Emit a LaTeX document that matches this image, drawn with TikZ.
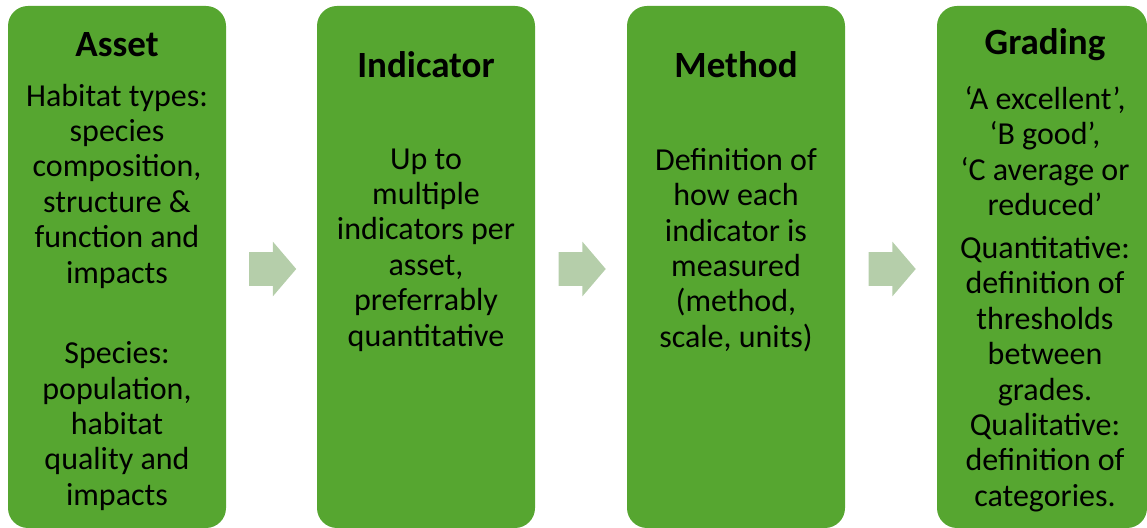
\documentclass[tikz,border=0pt]{standalone}
\usepackage{fontspec}
\setmainfont{Carlito}
\usetikzlibrary{shapes.arrows,calc}
\definecolor{verde}{RGB}{86,166,48}
\definecolor{verdeclaro}{RGB}{181,206,170}
\tikzset{
  caja/.style={fill=verde, rounded corners=10pt, minimum width=109pt, minimum height=261pt, inner sep=0pt},
  titulo/.style={font=\fontsize{18.5}{21}\selectfont\bfseries},
  texto/.style={align=center, font=\fontsize{16}{17.7}\selectfont},
  flecha/.style={single arrow, fill=verdeclaro, inner xsep=0pt, inner ysep=8.25pt, minimum height=23.5pt,
    single arrow head extend=5.25pt, single arrow head indent=0pt, single arrow tip angle=99,
    xshift=-3pt, yshift=-1pt}
}
\begin{document}
\begin{tikzpicture}[x=0.5pt,y=-0.5pt]
    \useasboundingbox (0,0) rectangle (1147,528);

    % Cajas
    \node[caja] (asset) at (117,267) {};
    \node[caja] (indicator) at (426,267) {};
    \node[caja] (method) at (736,267) {};
    \node[caja, minimum width=105pt] (grading) at (1042,267) {};

    % Flechas entre cajas
    \node[flecha] (f1) at ($(asset.east)!0.5!(indicator.west)$) {};
    \node[flecha] (f2) at ($(indicator.east)!0.5!(method.west)$) {};
    \node[flecha] (f3) at ($(method.east)!0.5!(grading.west)$) {};

    % Asset
    \node[titulo] (tasset) at (117,45) {Asset};
    \node[texto] (habitat) at (117,186) {Habitat types:\\ species\\ composition,\\ structure \&\\ function and\\ impacts};
    \node[texto] (species) at (117,426) {Species:\\ population,\\ habitat\\ quality and\\ impacts};

    % Indicator
    \node[titulo] (tindicator) at (426,65) {Indicator};
    \node[texto] (upto) at (426,250) {Up to\\ multiple\\ indicators per\\ asset,\\ preferrably\\ quantitative};

    % Method
    \node[titulo] (tmethod) at (736,65) {Method};
    \node[texto] (definition) at (736,250) {Definition of\\ how each\\ indicator is\\ measured\\ (method,\\ scale, units)};

    % Grading
    \node[titulo] (tgrading) at (1045,45) {Grading};
    \node[texto] (grades) at (1045,151) {‘A excellent’,\\ ‘B good\symbol{39},\\ ‘C average or\\ reduced’};
    \node[texto] (thresholds) at (1045,374) {Quantitative:\\ definition of\\ thresholds\\ between\\ grades.\\ Qualitative:\\ definition of\\ categories.};
\end{tikzpicture}
\end{document}
